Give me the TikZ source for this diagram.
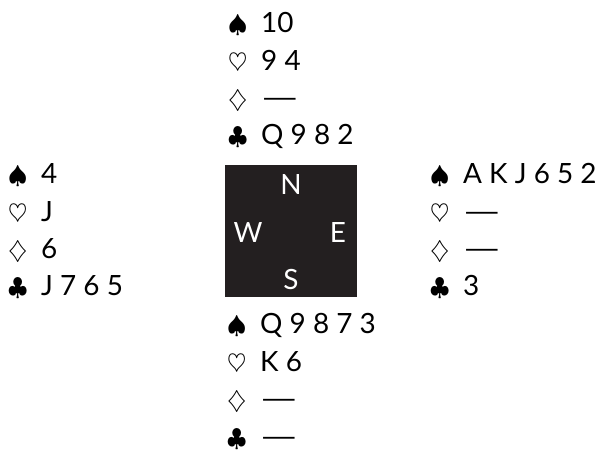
\documentclass[tikz,border=0pt]{standalone}
\usepackage{fontspec}
\usepackage{graphicx}
\setmainfont{Lato}
\usetikzlibrary{positioning}
\definecolor{TableBlack}{HTML}{231F20}
\newcommand{\suitline}[2]{\makebox[33bp][l]{$#1$}#2}
\newcommand{\voidsuit}{\scalebox{1.7}[1]{—}}
\tikzset{
  hand/.style={anchor=base west, align=left, inner sep=0pt, font=\fontsize{28}{37.5}\selectfont},
  seat/.style={anchor=base, text=white, inner sep=0pt, font=\fontsize{28}{32}\selectfont},
}

\begin{document}
\begin{tikzpicture}[x=1bp, y=-1bp]
  \useasboundingbox (0,0) rectangle (598,450);

  % the table
  \node[fill=TableBlack, minimum size=132bp, inner sep=0pt] (table) at (291,231) {};
  \node[seat] (n) at (291,195) {N};
  \node[seat] (w) at (248,243) {W};
  \node[seat] (e) at (338,243) {E};
  \node[seat] (s) at (291,290) {S};

  % the four hands (base = last line)
  \node[hand] (north) at (228,145) {\suitline{\spadesuit}{10}\\ \suitline{\heartsuit}{9 4}\\ \suitline{\diamondsuit}{\voidsuit}\\ \suitline{\clubsuit}{Q 9 8 2}};
  \node[hand] (west) at (8,296) {\suitline{\spadesuit}{4}\\ \suitline{\heartsuit}{J}\\ \suitline{\diamondsuit}{6}\\ \suitline{\clubsuit}{J 7 6 5}};
  \node[hand] (east) at (430,296) {\suitline{\spadesuit}{A K J 6 5 2}\\ \suitline{\heartsuit}{\voidsuit}\\ \suitline{\diamondsuit}{\voidsuit}\\ \suitline{\clubsuit}{3}};
  \node[hand] (south) at (227,446) {\suitline{\spadesuit}{Q 9 8 7 3}\\ \suitline{\heartsuit}{K 6}\\ \suitline{\diamondsuit}{\voidsuit}\\ \suitline{\clubsuit}{\voidsuit}};
\end{tikzpicture}
\end{document}
